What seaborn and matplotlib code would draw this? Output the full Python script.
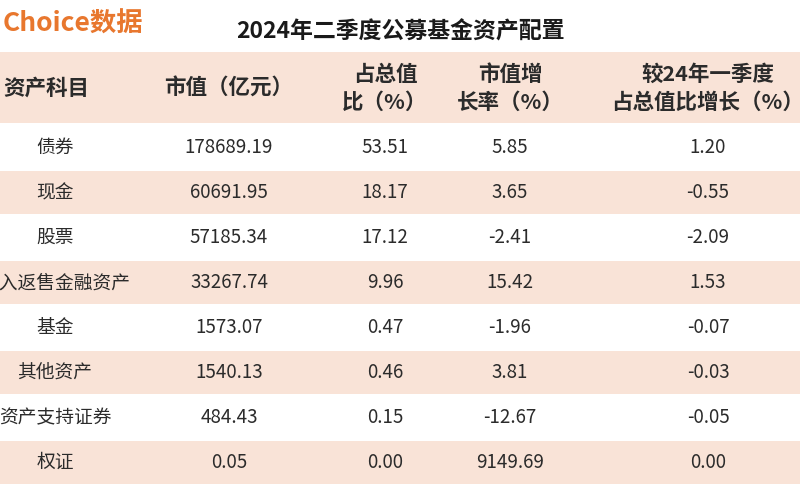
import matplotlib
matplotlib.use("Agg")
import matplotlib.pyplot as plt
import seaborn as sns

# ── Data ─────────────────────────────────────────────
title = "2024年二季度公募基金资产配置"
headers = ["资产科目", "市值（亿元）", "占总值\n比（%）", "市值增\n长率（%）", "较24年一季度\n占总值比增长（%）"]
items = ["债券", "现金", "股票", "买入返售金融资产", "基金", "其他资产", "资产支持证券", "权证"]
market_value = ["178689.19", "60691.95", "57185.34", "33267.74", "1573.07", "1540.13", "484.43", "0.05"]
share_pct = ["53.51", "18.17", "17.12", "9.96", "0.47", "0.46", "0.15", "0.00"]
growth_pct = ["5.85", "3.65", "-2.41", "15.42", "-1.96", "3.81", "-12.67", "9149.69"]
share_change = ["1.20", "-0.55", "-2.09", "1.53", "-0.07", "-0.03", "-0.05", "0.00"]

sns.set_theme(style="white")
plt.rcParams["font.family"] = ["Noto Sans CJK SC", "DejaVu Sans"]

PINK = "#f9e3d7"
TXT = "#2b2b2b"
col_x = [55, 229, 385, 510, 708]
row_top, row_h = 125, 45
head_top, head_bot = 52, 123

fig = plt.figure(figsize=(8, 5), dpi=100)
ax = fig.add_axes([0, 0, 1, 1])
ax.set_xlim(0, 800)
ax.set_ylim(500, 0)
ax.axis("off")

# header band
ax.axhspan(head_top, head_bot, color=PINK, lw=0)
for x, h in zip(col_x, headers):
    ax.text(x if x != 55 else 46, (head_top + head_bot) / 2 + 1, h, ha="center", va="center",
            fontsize=15.5, fontweight="bold", color=TXT, linespacing=1.45)

columns = [items, market_value, share_pct, growth_pct, share_change]
for i in range(len(items)):
    y0 = row_top + i * row_h
    if i % 2 == 1:
        ax.axhspan(y0 + 1, y0 + row_h - 1, color=PINK, lw=0)
    for x, col in zip(col_x, columns):
        ax.text(x, y0 + row_h / 2, col[i], ha="center", va="center",
                fontsize=13.5, color=TXT)

ax.text(400, 32, title, ha="center", va="center", fontsize=16.5, fontweight="bold", color="#1a1a1a")
ax.text(143, 24, "Choice数据", ha="right", va="center", fontsize=19, fontweight="bold",
        fontstyle="italic", color="#e8772e")

fig.savefig("out.png", dpi=100)
